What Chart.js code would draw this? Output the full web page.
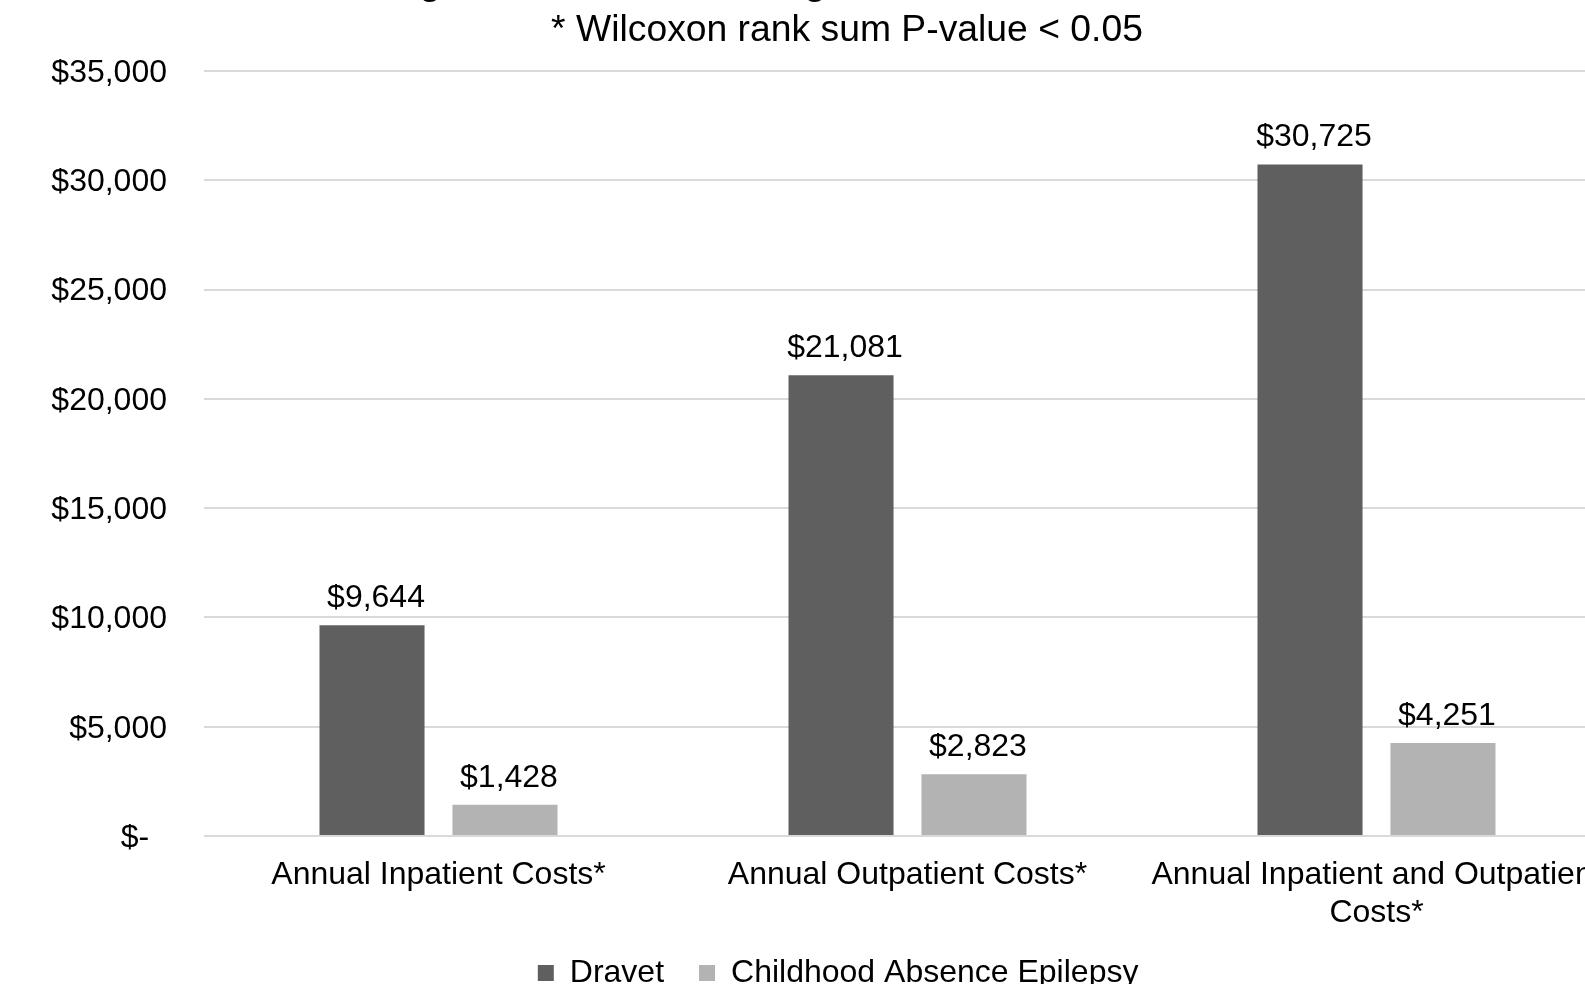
<!DOCTYPE html>
<html>
<head>
<meta charset="utf-8">
<script src="https://cdn.jsdelivr.net/npm/chart.js@4.4.1/dist/chart.umd.min.js"></script>
<style>
  html, body { margin: 0; padding: 0; background: #ffffff; overflow: hidden; width: 1585px; height: 984px; }
  #wrap { position: absolute; left: 0; top: -50px; width: 1694px; height: 1049px; }
</style>
</head>
<body>
<div id="wrap"><canvas id="c" width="1694" height="1049"></canvas></div>
<script>
const titleText = "Average Annual Costs Among Dravet and CAE Patient Cohorts";
const subtitleText = "* Wilcoxon rank sum P-value < 0.05";
const categories = [
  ["Annual Inpatient Costs*"],
  ["Annual Outpatient Costs*"],
  ["Annual Inpatient and Outpatient", "Costs*"]
];
const seriesNames = ["Dravet", "Childhood Absence Epilepsy"];
const dravetValues = [9644, 21081, 30725];
const caeValues = [1428, 2823, 4251];
const yTicks = [0, 5000, 10000, 15000, 20000, 25000, 30000, 35000];

const FONT = "'Liberation Sans', Arial, sans-serif";
const fmt = v => v === 0 ? '$-  ' : '$' + v.toLocaleString('en-US');

const valueLabels = {
  id: 'valueLabels',
  afterDatasetsDraw(chart) {
    const ctx = chart.ctx;
    ctx.save();
    ctx.font = `32px ${FONT}`;
    ctx.fillStyle = '#000000';
    ctx.textAlign = 'center';
    ctx.textBaseline = 'middle';
    chart.data.datasets.forEach((ds, i) => {
      const meta = chart.getDatasetMeta(i);
      meta.data.forEach((el, j) => {
        ctx.fillText(fmt(ds.data[j]), el.x + 4, el.y - 27);
      });
    });
    ctx.restore();
  }
};

new Chart(document.getElementById('c'), {
  type: 'bar',
  data: {
    labels: categories,
    datasets: [
      { label: seriesNames[0], data: dravetValues, backgroundColor: '#5f5f5f',
        categoryPercentage: 0.567, barPercentage: 0.79 },
      { label: seriesNames[1], data: caeValues, backgroundColor: '#b3b3b3',
        categoryPercentage: 0.567, barPercentage: 0.79 }
    ]
  },
  options: {
    responsive: false,
    animation: false,
    devicePixelRatio: 1,
    layout: { padding: 0 },
    plugins: {
      title: {
        display: true, text: titleText, color: '#000000',
        font: { family: FONT, size: 35, weight: 'bold', lineHeight: 1.2 },
        padding: { top: 14, bottom: 0 }
      },
      subtitle: {
        display: true, text: subtitleText, color: '#000000',
        font: { family: FONT, size: 37.3, lineHeight: 1.15 },
        padding: { top: 3, bottom: 19.1 }
      },
      legend: {
        position: 'bottom',
        labels: {
          color: '#000000',
          font: { family: FONT, size: 32 },
          boxWidth: 16, boxHeight: 16, padding: 35,
          generateLabels(chart) {
            const items = Chart.defaults.plugins.legend.labels.generateLabels(chart);
            items[items.length - 1].text += '  ';
            return items;
          }
        }
      },
      tooltip: { enabled: false }
    },
    scales: {
      x: {
        grid: { display: false },
        border: { display: false },
        ticks: {
          color: '#000000', font: { family: FONT, size: 32, lineHeight: 1.2 },
          padding: 12, maxRotation: 0, minRotation: 0, autoSkip: false
        },
        afterFit(s) { s.height = 86; }
      },
      y: {
        min: 0, max: 35000,
        afterBuildTicks(s) { s.ticks = yTicks.map(v => ({ value: v })); },
        grid: { color: '#d9d9d9', lineWidth: 2, drawTicks: false },
        border: { display: false },
        ticks: {
          color: '#000000', font: { family: FONT, size: 32 },
          padding: 37, labelOffset: 2, callback: v => fmt(v)
        },
        afterFit(s) { s.width = 204; }
      },
      y2: {
        position: 'right', display: true,
        grid: { display: false }, border: { display: false },
        ticks: { display: false },
        afterFit(s) { s.width = 83; }
      }
    }
  },
  plugins: [valueLabels]
});
</script>
</body>
</html>
